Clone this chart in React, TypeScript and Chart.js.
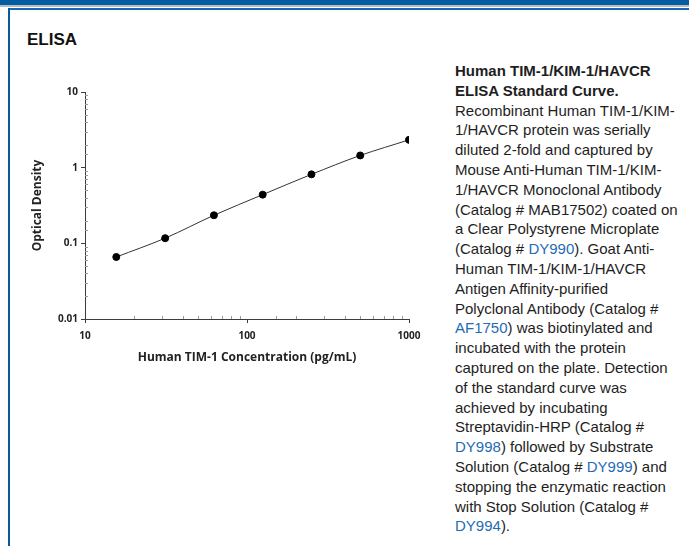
import React, { useEffect, useRef } from "react";
import { Chart, registerables } from "chart.js";

Chart.register(...registerables);

const concentrations = [15.6, 31.25, 62.5, 125, 250, 500, 1000];
const opticalDensity = [0.066, 0.117, 0.235, 0.44, 0.816, 1.45, 2.33];
const xTickLabels = ["10", "100", "1000"];
const yTickLabels = ["0.01", "0.1", "1", "10"];
const xTitle = "Human TIM-1 Concentration (pg/mL)";
const yTitle = "Optical Density";

type Seg = { t: string; link?: boolean; bold?: boolean };
const captionLines: Seg[][] = [
  [{ t: "Human TIM-1/KIM-1/HAVCR", bold: true }],
  [{ t: "ELISA Standard Curve.", bold: true }],
  [{ t: "Recombinant Human TIM-1/KIM-" }],
  [{ t: "1/HAVCR protein was serially" }],
  [{ t: "diluted 2-fold and captured by" }],
  [{ t: "Mouse Anti-Human TIM-1/KIM-" }],
  [{ t: "1/HAVCR Monoclonal Antibody" }],
  [{ t: "(Catalog # MAB17502) coated on" }],
  [{ t: "a Clear Polystyrene Microplate" }],
  [{ t: "(Catalog # " }, { t: "DY990", link: true }, { t: "). Goat Anti-" }],
  [{ t: "Human TIM-1/KIM-1/HAVCR" }],
  [{ t: "Antigen Affinity-purified" }],
  [{ t: "Polyclonal Antibody (Catalog #" }],
  [{ t: "AF1750", link: true }, { t: ") was biotinylated and" }],
  [{ t: "incubated with the protein" }],
  [{ t: "captured on the plate. Detection" }],
  [{ t: "of the standard curve was" }],
  [{ t: "achieved by incubating" }],
  [{ t: "Streptavidin-HRP (Catalog #" }],
  [{ t: "DY998", link: true }, { t: ") followed by Substrate" }],
  [{ t: "Solution (Catalog # " }, { t: "DY999", link: true }, { t: ") and" }],
  [{ t: "stopping the enzymatic reaction" }],
  [{ t: "with Stop Solution (Catalog #" }],
  [{ t: "DY994", link: true }, { t: ")." }],
];

const isMajor = (v: number) => {
  const l = Math.log10(v);
  return Math.abs(l - Math.round(l)) < 1e-6;
};

const AXIS_COLOR = "#3c3c3c";

const minorTicksPlugin = {
  id: "minorTicksInside",
  afterDraw(chart: any) {
    const ctx = chart.ctx;
    const xs = chart.scales.x;
    const ys = chart.scales.y;
    ctx.save();
    ctx.strokeStyle = "#9a9a9a";
    ctx.lineWidth = 1;
    ctx.beginPath();
    xs.ticks.forEach((t: any) => {
      if (isMajor(t.value)) return;
      const px = Math.round(xs.getPixelForValue(t.value)) + 0.5;
      ctx.moveTo(px, ys.bottom);
      ctx.lineTo(px, ys.bottom - 3);
    });
    ys.ticks.forEach((t: any) => {
      if (isMajor(t.value)) return;
      const py = Math.round(ys.getPixelForValue(t.value)) + 0.5;
      ctx.moveTo(xs.left, py);
      ctx.lineTo(xs.left + 3, py);
    });
    ctx.stroke();
    ctx.restore();
  },
};

function ElisaChart() {
  const ref = useRef<HTMLCanvasElement | null>(null);
  useEffect(() => {
    if (!ref.current) return;
    const font = { family: "'Open Sans', sans-serif", weight: "bold" as any };
    const chart = new Chart(ref.current, {
      type: "line",
      data: {
        datasets: [
          {
            data: concentrations.map((c, i) => ({ x: c, y: opticalDensity[i] })),
            borderColor: "#333333",
            borderWidth: 1,
            backgroundColor: "#000000",
            pointBackgroundColor: "#000000",
            pointBorderColor: "#000000",
            pointRadius: 3.5,
            cubicInterpolationMode: "monotone",
            fill: false,
          },
        ],
      },
      plugins: [minorTicksPlugin],
      options: {
        animation: false,
        responsive: false,
        maintainAspectRatio: false,
        layout: { padding: { top: 12, right: 21, left: 0, bottom: 0 } },
        plugins: { legend: { display: false }, tooltip: { enabled: false } },
        scales: {
          x: {
            type: "logarithmic",
            min: 10,
            max: 1000,
            border: { display: true, color: AXIS_COLOR, width: 1 },
            grid: {
              drawOnChartArea: false,
              drawTicks: true,
              tickLength: 4,
              tickColor: (c: any) => (c.tick && isMajor(c.tick.value) ? AXIS_COLOR : "rgba(0,0,0,0)"),
            },
            ticks: {
              autoSkip: false,
              maxRotation: 0,
              padding: 7,
              color: "#222222",
              font: { ...font, size: 10 },
              callback: (v: any) => {
                const n = Number(v);
                if (!isMajor(n)) return "";
                return xTickLabels[Math.round(Math.log10(n)) - 1] ?? "";
              },
            },
            title: {
              display: true,
              text: xTitle,
              color: "#222222",
              font: { ...font, size: 12 },
              padding: { top: 0, bottom: 5 },
            },
            afterFit: (s: any) => {
              s.height = 51;
            },
          },
          y: {
            type: "logarithmic",
            min: 0.01,
            max: 10,
            border: { display: true, color: AXIS_COLOR, width: 1 },
            grid: {
              drawOnChartArea: false,
              drawTicks: true,
              tickLength: 4,
              tickColor: (c: any) => (c.tick && isMajor(c.tick.value) ? AXIS_COLOR : "rgba(0,0,0,0)"),
            },
            ticks: {
              autoSkip: false,
              padding: 3,
              color: "#222222",
              font: { ...font, size: 10 },
              callback: (v: any) => {
                const n = Number(v);
                if (!isMajor(n)) return "";
                return yTickLabels[Math.round(Math.log10(n)) + 2] ?? "";
              },
            },
            title: {
              display: true,
              text: yTitle,
              color: "#222222",
              font: { ...font, size: 12 },
              padding: { top: 10, bottom: 0 },
            },
            afterFit: (s: any) => {
              s.width = 65;
            },
          },
        },
      },
    });
    return () => chart.destroy();
  }, []);
  return (
    <canvas
      ref={ref}
      width={410}
      height={290}
      style={{ position: "absolute", left: 20, top: 80, width: 410, height: 290 }}
    />
  );
}

export default function App() {
  return (
    <div
      style={{
        position: "fixed",
        left: 0,
        top: 0,
        width: 689,
        height: 546,
        background: "#ffffff",
        overflow: "hidden",
        fontFamily: "'Liberation Sans', Arial, sans-serif",
      }}
    >
      <div style={{ position: "absolute", left: 0, top: 0, width: 689, height: 5, background: "#035ea1" }} />
      <div style={{ position: "absolute", left: 0, top: 5, width: 689, height: 2, background: "#b8bcc2" }} />
      <div style={{ position: "absolute", left: 8, top: 8, width: 681, height: 2, background: "#1a68ae" }} />
      <div style={{ position: "absolute", left: 8, top: 8, width: 2, height: 538, background: "#0b5a9c" }} />
      <div
        style={{
          position: "absolute",
          left: 27,
          top: 31,
          fontSize: 17,
          lineHeight: "17px",
          fontWeight: 700,
          color: "#111111",
        }}
      >
        ELISA
      </div>
      <ElisaChart />
      <div style={{ position: "absolute", left: 455, top: 61, fontSize: 15, lineHeight: "19.8px", color: "#1e1e1e" }}>
        {captionLines.map((line, i) => (
          <div key={i} style={{ whiteSpace: "nowrap", height: "19.8px" }}>
            {line.map((s, j) => (
              <span
                key={j}
                style={{
                  fontWeight: s.bold ? 700 : 400,
                  color: s.link ? "#1f6bb5" : undefined,
                }}
              >
                {s.t}
              </span>
            ))}
          </div>
        ))}
      </div>
    </div>
  );
}
